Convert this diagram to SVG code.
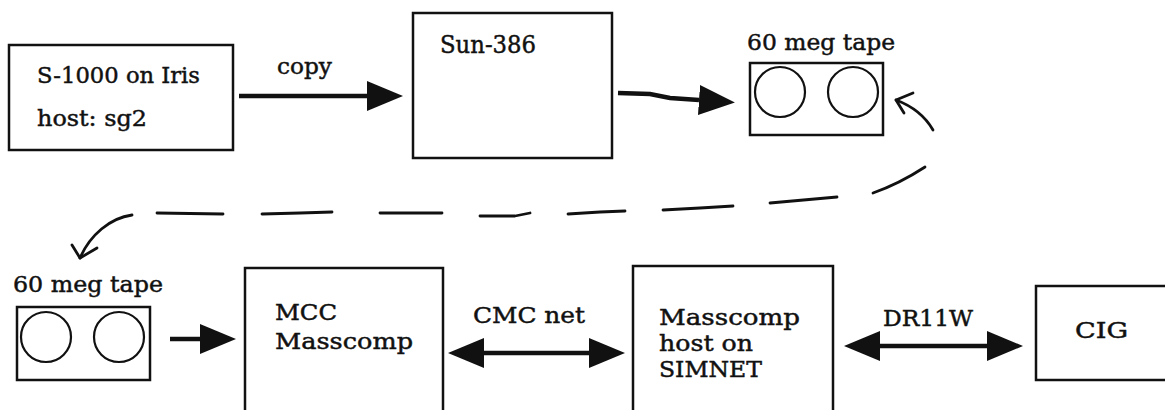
<svg xmlns="http://www.w3.org/2000/svg" width="1165" height="410" viewBox="0 0 1165 410">
<style>
  .box { fill: #ffffff; stroke: #111111; stroke-width: 2.5; }
  .reel { fill: none; stroke: #111111; stroke-width: 2.2; }
  .lbl { font-family: "DejaVu Serif", "Liberation Serif", serif; font-size: 22px; fill: #111111; stroke: #111111; stroke-width: 0.45; }
  .conn { fill: none; stroke: #111111; stroke-width: 4.5; stroke-linecap: butt; }
  .sketch { fill: none; stroke: #111111; stroke-width: 2.8; stroke-linecap: round; stroke-linejoin: round; }
</style>
<defs>
  <marker id="head" markerUnits="userSpaceOnUse" markerWidth="36" markerHeight="30" refX="0" refY="15" orient="auto-start-reverse" viewBox="0 0 36 30">
    <path d="M0,0 L36,15 L0,30 Z" fill="#111111"/>
  </marker>
</defs>
<rect width="1165" height="410" fill="#ffffff"/>

<g id="s1000">
  <rect class="box" x="9" y="45" width="224" height="105"/>
  <text class="lbl" x="37" y="83" textLength="163" lengthAdjust="spacingAndGlyphs">S-1000 on Iris</text>
  <text class="lbl" x="37" y="126" textLength="110" lengthAdjust="spacingAndGlyphs">host: sg2</text>
</g>

<g id="sun386">
  <rect class="box" x="413" y="13" width="199" height="145"/>
  <text class="lbl" x="440" y="53" textLength="96" lengthAdjust="spacingAndGlyphs" style="font-size:24px">Sun-386</text>
</g>

<g id="tape1">
  <text class="lbl" x="747" y="50" textLength="148" lengthAdjust="spacingAndGlyphs">60 meg tape</text>
  <rect class="box" x="750" y="63" width="133" height="72"/>
  <circle class="reel" cx="780" cy="92" r="25"/>
  <circle class="reel" cx="853" cy="92" r="25"/>
</g>

<g id="tape2">
  <text class="lbl" x="13" y="292" textLength="150" lengthAdjust="spacingAndGlyphs">60 meg tape</text>
  <rect class="box" x="17" y="307" width="133" height="73"/>
  <circle class="reel" cx="46" cy="337" r="25"/>
  <circle class="reel" cx="119" cy="337" r="25"/>
</g>

<g id="mcc">
  <rect class="box" x="245" y="268" width="198" height="150"/>
  <text class="lbl" x="275" y="320" textLength="62" lengthAdjust="spacingAndGlyphs">MCC</text>
  <text class="lbl" x="275" y="349" textLength="138" lengthAdjust="spacingAndGlyphs">Masscomp</text>
</g>

<g id="simnet">
  <rect class="box" x="633" y="266" width="200" height="152"/>
  <text class="lbl" x="659" y="325" textLength="141" lengthAdjust="spacingAndGlyphs">Masscomp</text>
  <text class="lbl" x="659" y="351" textLength="94" lengthAdjust="spacingAndGlyphs">host on</text>
  <text class="lbl" x="659" y="377" textLength="103" lengthAdjust="spacingAndGlyphs">SIMNET</text>
</g>

<g id="cig">
  <rect class="box" x="1036" y="286" width="140" height="94"/>
  <text class="lbl" x="1075" y="338" textLength="53" lengthAdjust="spacingAndGlyphs">CIG</text>
</g>

<g id="connectors">
  <path class="conn" d="M239,96 L367,96" marker-end="url(#head)"/>
  <text class="lbl" x="277" y="74" textLength="55" lengthAdjust="spacingAndGlyphs">copy</text>

  <path class="conn" d="M618,93 L650,94 L670,98 L699,100" marker-end="url(#head)"/>

  <path class="conn" d="M170,339 L200,339" marker-end="url(#head)"/>

  <path class="conn" d="M484,353 L589,353" marker-start="url(#head)" marker-end="url(#head)"/>
  <text class="lbl" x="473" y="323" textLength="112" lengthAdjust="spacingAndGlyphs">CMC net</text>

  <path class="conn" d="M880,346 L987,346" marker-start="url(#head)" marker-end="url(#head)"/>
  <text class="lbl" x="883" y="326" textLength="90" lengthAdjust="spacingAndGlyphs">DR11W</text>

  <path class="sketch" d="M933,130 C925,116 912,106 896,100"/>
  <path class="sketch" d="M913,93 L896,100 L904,113"/>
  <path class="sketch" d="M925,167 C905,180 890,187 873,193"/>
  <path class="sketch" d="M837,197 L770,203"/>
  <path class="sketch" d="M733,206 L700,208 L663,210"/>
  <path class="sketch" d="M625,211 L600,212 L568,214"/>
  <path class="sketch" d="M530,213 L515,216 L480,216"/>
  <path class="sketch" d="M442,213 L380,213"/>
  <path class="sketch" d="M332,212 L300,213 L262,214"/>
  <path class="sketch" d="M223,214 L157,213"/>
  <path class="sketch" d="M132,215 C110,218 90,235 80,258"/>
  <path class="sketch" d="M72,245 L80,258 L97,248"/>
</g>
</svg>
